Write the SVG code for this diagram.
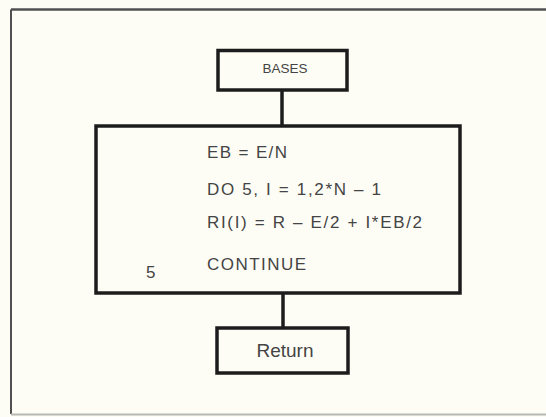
<svg xmlns="http://www.w3.org/2000/svg" width="546" height="417" viewBox="0 0 546 417">
  <style>
    .box { fill: #fdfdf6; stroke: #1c1c1c; stroke-width: 3.5; stroke-linejoin: miter; }
    .conn { stroke: #1c1c1c; stroke-width: 3.5; fill: none; }
    .t { font-family: "Liberation Sans", Arial, sans-serif; fill: #444444; }
    .code { font-size: 17px; }
  </style>
  <rect x="0" y="0" width="546" height="417" fill="#fdfdf6"/>
  <g id="frame">
    <line x1="11" y1="9.5" x2="546" y2="9.5" stroke="#505050" stroke-width="2.5"/>
    <line x1="11" y1="9.5" x2="11" y2="414" stroke="#505050" stroke-width="2"/>
    <line x1="11" y1="414.5" x2="546" y2="414.5" stroke="#b8b8b4" stroke-width="2"/>
  </g>
  <g id="connectors">
    <line class="conn" x1="282" y1="90" x2="282" y2="126"/>
    <line class="conn" x1="283" y1="293" x2="283" y2="328"/>
  </g>
  <g id="node-bases">
    <rect class="box" x="218" y="50.5" width="129" height="39.5"/>
    <text class="t" x="285" y="73" font-size="13.5" text-anchor="middle">BASES</text>
  </g>
  <g id="node-loop">
    <rect class="box" x="96" y="126" width="364" height="167"/>
    <text class="t code" x="207" y="158" textLength="80" lengthAdjust="spacing">EB = E/N</text>
    <text class="t code" x="207" y="195" textLength="174" lengthAdjust="spacing">DO 5, I = 1,2*N – 1</text>
    <text class="t code" x="207" y="228" textLength="215" lengthAdjust="spacing">RI(I) = R – E/2 + I*EB/2</text>
    <text class="t code" x="207" y="270" textLength="99" lengthAdjust="spacing">CONTINUE</text>
    <text class="t code" x="146" y="278">5</text>
  </g>
  <g id="node-return">
    <rect class="box" x="217" y="328" width="131" height="45"/>
    <text class="t" x="285" y="357" font-size="19" text-anchor="middle">Return</text>
  </g>
</svg>
